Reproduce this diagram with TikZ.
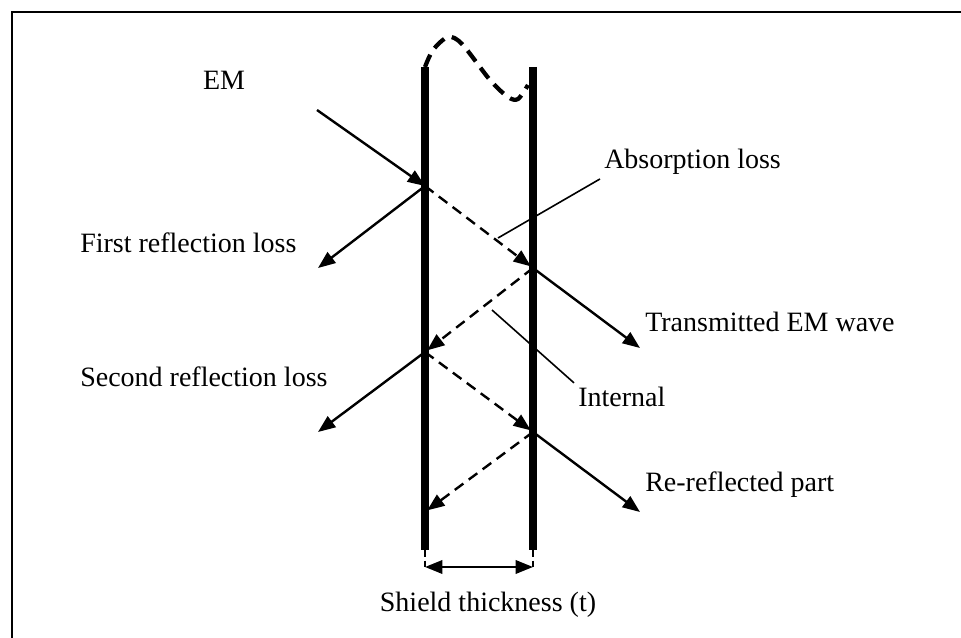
\documentclass[tikz,border=0pt]{standalone}
\usepackage{fontspec}
\setmainfont{Liberation Serif}
\usetikzlibrary{arrows.meta}

\tikzset{
  ray/.style={line width=1.8pt, -{Triangle[length=13pt,width=10pt]}},
  innerray/.style={ray, dash pattern=on 8pt off 5pt},
  plate/.style={line width=5.5pt},
  leader/.style={line width=1.2pt},
  lbl/.style={font=\fontsize{21pt}{24pt}\selectfont, inner sep=3pt, anchor=west}
}

\begin{document}
\begin{tikzpicture}[x=0.75pt, y=-0.75pt]

  \useasboundingbox (0,0) rectangle (961,638);

  % frame
  \draw[line width=1.6pt] (12,638) -- (12,12) -- (961,12);

  % --------------------------------------------------------------------
  % shield plates
  % --------------------------------------------------------------------
  \coordinate (ltop) at (425,67);
  \coordinate (lbot) at (425,550);
  \coordinate (rtop) at (533,67);
  \coordinate (rbot) at (533,550);

  \draw[plate] (ltop) -- (lbot);
  \draw[plate] (rtop) -- (rbot);

  \draw[line width=3.2pt, dash pattern=on 10pt off 6pt]
    plot[smooth] coordinates {(425,67) (433,50) (448,37) (462,44) (490,80) (508,97) (518,99) (528,85)};

  % --------------------------------------------------------------------
  % hit points on the plates
  % --------------------------------------------------------------------
  \coordinate (l1) at (425,186);
  \coordinate (r1) at (533,268);
  \coordinate (l2) at (425,352);
  \coordinate (r2) at (533,432);
  \coordinate (l3) at (425,512);

  \coordinate (emsrc) at (317,110);
  \coordinate (refl1) at (318,268);
  \coordinate (trans) at (640,348);
  \coordinate (refl2) at (318,432);
  \coordinate (rerefl) at (640,512);

  % --------------------------------------------------------------------
  % rays
  % --------------------------------------------------------------------
  \draw[ray] (emsrc) -- (l1);
  \draw[ray] (l1) -- (refl1);
  \draw[ray] (r1) -- (trans);
  \draw[ray] (l2) -- (refl2);
  \draw[ray] (r2) -- (rerefl);

  \draw[innerray, shorten >=2pt] (l1) -- (r1);
  \draw[innerray, shorten >=2pt] (r1) -- (l2);
  \draw[innerray, shorten >=2pt] (l2) -- (r2);
  \draw[innerray, shorten >=2pt] (r2) -- (l3);

  % --------------------------------------------------------------------
  % labels
  % --------------------------------------------------------------------
  \node[lbl, anchor=center] (em) at (224,80) {EM};
  \node[lbl] (first) at (76,243) {First reflection loss};
  \node[lbl] (second) at (76,377) {Second reflection loss};
  \node[lbl] (absorb) at (600,162) {Absorption loss};
  \node[lbl] (transmit) at (641,322) {Transmitted EM wave};
  \node[lbl] (internal) at (574,397) {Internal};
  \node[lbl] (rereflect) at (641,485) {Re-reflected part};
  \node[lbl, anchor=center] (thick) at (488,605) {Shield thickness (t)};

  \coordinate (absfoot) at (498,238);
  \coordinate (intfoot) at (492,310);
  \draw[leader] (absfoot) -- (absorb.south west);
  \draw[leader] (intfoot) -- (internal.north west);

  % --------------------------------------------------------------------
  % thickness dimension
  % --------------------------------------------------------------------
  \coordinate (ldim) at (425,567);
  \coordinate (rdim) at (533,567);
  \draw[line width=1.3pt, dash pattern=on 5pt off 3pt] (lbot) -- (ldim);
  \draw[line width=1.3pt, dash pattern=on 5pt off 3pt] (rbot) -- (rdim);
  \draw[line width=1.8pt, {Triangle[length=13pt,width=10pt]}-{Triangle[length=13pt,width=10pt]}] (ldim) -- (rdim);

\end{tikzpicture}
\end{document}
